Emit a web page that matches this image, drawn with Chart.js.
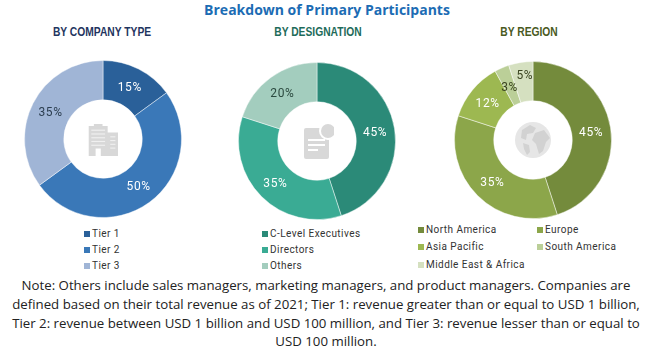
<!DOCTYPE html>
<html>
<head>
<meta charset="utf-8">
<script src="https://cdn.jsdelivr.net/npm/chart.js@4/dist/chart.umd.min.js"></script>
<style>
html,body{margin:0;padding:0;background:#fff;width:650px;height:351px;overflow:hidden}
.a{position:absolute;white-space:nowrap}
canvas{position:absolute}
.main{left:0;width:654px;text-align:center;top:0;font:bold 14px "Open Sans",sans-serif;color:#1c6cb4}
.sub{top:24px;font:bold 13px "Liberation Sans",sans-serif;text-align:center;width:160px;transform:scaleX(.79)}
.leg{font:10px "Roboto",sans-serif;letter-spacing:.45px;color:#333}
.sw{position:absolute;width:6px;height:6px}
.note{left:1px;width:650px;text-align:center;font:13.25px "Open Sans",sans-serif;color:#222;line-height:18px}
</style>
</head>
<body>
<div class="a main">Breakdown of Primary Participants</div>
<div id="root"></div>
<svg class="a" style="left:87px;top:124px" width="31" height="32" viewBox="0 0 36 34" preserveAspectRatio="none">
  <path fill="#d8d8d8" d="M2 2h6V0h10v2h6v32h-8v-8h-6v8H2zM24 9h12v25H24z"/>
  <g fill="#f0f0f0"><rect x="5" y="6" width="16" height="1.2"/><rect x="5" y="10" width="16" height="1.2"/><rect x="5" y="14" width="16" height="1.2"/><rect x="5" y="18" width="16" height="1.2"/><rect x="5" y="22" width="16" height="1.2"/><rect x="27" y="13" width="6" height="1.2"/><rect x="27" y="17" width="6" height="1.2"/><rect x="27" y="21" width="6" height="1.2"/><rect x="27" y="25" width="6" height="1.2"/></g>
</svg>
<svg class="a" style="left:304px;top:122px" width="30" height="38" viewBox="0 0 30 38">
  <rect x="0" y="6" width="25" height="31" rx="2" fill="#d8d8d8"/>
  <circle cx="24" cy="9" r="8" fill="#d8d8d8" stroke="#fff" stroke-width="2"/>
  <g fill="#fff"><rect x="4" y="17" width="17" height="2"/><rect x="4" y="22" width="17" height="2"/><rect x="4" y="27" width="10" height="2"/></g>
</svg>
<svg class="a" style="left:514px;top:121px" width="38" height="38" viewBox="0 0 38 38">
  <circle cx="19" cy="19" r="18" fill="#e6e6e6"/>
  <path fill="#d2d2d2" d="M8 9l8-5 6 3-3 5-6 1-1 6-5-2zM21 12l9-3 6 8-4 4-3 9-4 3-3-10-4-4zM9 22l6 2 1 7-3 3-3-6z"/>
</svg>
<div class="a note" style="top:276px">Note: Others include sales managers, marketing managers, and product managers. Companies are</div>
<div class="a note" style="top:295px">defined based on their total revenue as of 2021; Tier 1: revenue greater than or equal to USD 1 billion,</div>
<div class="a note" style="top:314px">Tier 2: revenue between USD 1 billion and USD 100 million, and Tier 3: revenue lesser than or equal to</div>
<div class="a note" style="top:332px">USD 100 million.</div>
<script>
const companyLabels = ["Tier 1", "Tier 2", "Tier 3"];
const companyValues = [15, 50, 35];
const companyColors = ["#2a6099", "#3a78b8", "#a0b5d6"];
const companyText = ["#ffffff", "#ffffff", "#2c3e50"];

const designationLabels = ["C-Level Executives", "Directors", "Others"];
const designationValues = [45, 35, 20];
const designationColors = ["#2b8a78", "#3aab94", "#a3cdbe"];
const designationText = ["#ffffff", "#ffffff", "#2c4a40"];

const regionLabels = ["North America", "Europe", "Asia Pacific", "South America", "Middle East & Africa"];
const regionValues = [45, 35, 12, 3, 5];
const regionColors = ["#748b3c", "#8ca64a", "#9db851", "#bbcf98", "#d5e0c0"];
const regionText = ["#ffffff", "#ffffff", "#ffffff", "#3a4420", "#3a4420"];

const percentLabels = {
  id: "percentLabels",
  afterDatasetsDraw(chart, args, opts) {
    const ctx = chart.ctx;
    const meta = chart.getDatasetMeta(0);
    ctx.save();
    ctx.font = '12px "Roboto", sans-serif';
    ctx.textAlign = "center";
    ctx.textBaseline = "middle";
    ctx.letterSpacing = "0.6px";
    meta.data.forEach((arc, i) => {
      const p = arc.tooltipPosition();
      ctx.fillStyle = opts.colors[i];
      const nudge = (opts.nudge && opts.nudge[i]) || [0, 0];
      ctx.fillText(chart.data.datasets[0].data[i] + "%", p.x + nudge[0], p.y + nudge[1]);
    });
    ctx.restore();
  }
};

const root = document.getElementById("root");
function panel(cfg) {
  const c = document.createElement("canvas");
  const size = 160;
  c.width = size; c.height = size;
  c.style.left = (cfg.cx - size / 2) + "px";
  c.style.top = (cfg.cy - size / 2) + "px";
  c.style.width = size + "px"; c.style.height = size + "px";
  root.appendChild(c);
  new Chart(c, {
    type: "doughnut",
    data: { labels: cfg.labels, datasets: [{ data: cfg.values, backgroundColor: cfg.colors, borderColor: "rgba(255,255,255,.45)", borderWidth: 1 }] },
    options: {
      responsive: false, animation: false, cutout: "50%",
      layout: { padding: 1 },
      plugins: { legend: { display: false }, tooltip: { enabled: false }, title: { display: false },
        percentLabels: { colors: cfg.text, nudge: cfg.nudge } }
    },
    plugins: [percentLabels]
  });
  const t = document.createElement("div");
  t.className = "a sub";
  t.textContent = cfg.title;
  t.style.left = (cfg.tx - 80) + "px";
  t.style.color = cfg.titleColor;
  root.appendChild(t);
  cfg.labels.forEach((l, i) => {
    const [x, y] = cfg.legend[i];
    const s = document.createElement("div");
    s.className = "sw";
    s.style.cssText = `left:${x}px;top:${y - 3}px;background:${cfg.colors[i]}`;
    root.appendChild(s);
    const d = document.createElement("div");
    d.className = "a leg";
    d.textContent = l;
    d.style.left = (x + 8) + "px";
    d.style.top = (y - 6) + "px";
    root.appendChild(d);
  });
}
panel({ cx: 103, cy: 139, tx: 102, title: "BY COMPANY TYPE", titleColor: "#1f3560",
  labels: companyLabels, values: companyValues, colors: companyColors, text: companyText,
  nudge: [[0, 1], [1, 0], [0, 1]],
  legend: [[84, 234], [84, 250], [84, 266]] });
panel({ cx: 317, cy: 141, tx: 318, title: "BY DESIGNATION", titleColor: "#1e6b5a",
  labels: designationLabels, values: designationValues, colors: designationColors, text: designationText,
  nudge: [[0, 1], [0, 1], [0, 1]],
  legend: [[262, 234], [262, 250], [262, 266]] });
panel({ cx: 533, cy: 140, tx: 529, title: "BY REGION", titleColor: "#4a5a1e",
  labels: regionLabels, values: regionValues, colors: regionColors, text: regionText,
  nudge: [[0, 2], [1, 1], [0, 2], [0, 2], [1, -6]],
  legend: [[418, 230], [537, 230], [418, 247], [537, 247], [418, 265]] });
</script>
</body>
</html>
